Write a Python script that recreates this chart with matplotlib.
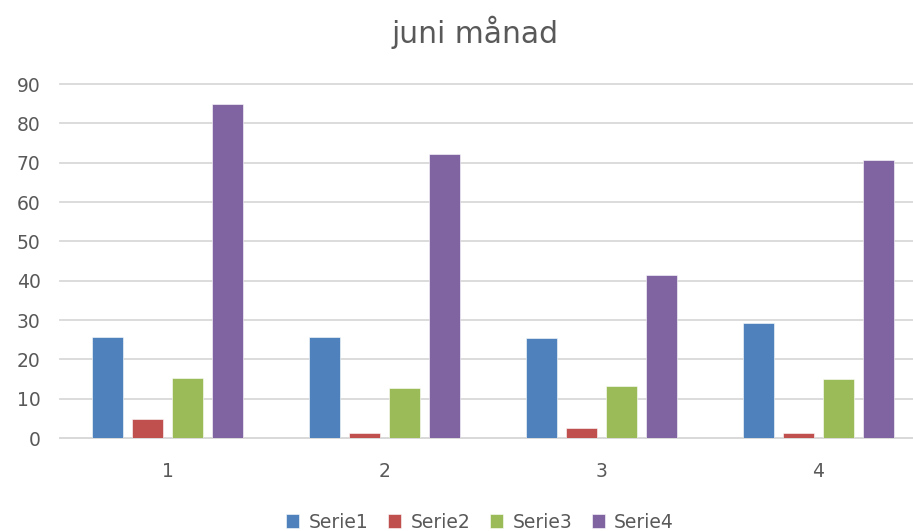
import numpy as np
import matplotlib
matplotlib.use("Agg")
import matplotlib.pyplot as plt

# values
categories = [1, 2, 3, 4]
series_names = ["Serie1", "Serie2", "Serie3", "Serie4"]
serie1 = [25.6, 25.8, 25.5, 29.2]
serie2 = [4.8, 1.2, 2.5, 1.2]
serie3 = [15.2, 12.8, 13.1, 15.1]
serie4 = [84.9, 72.2, 41.5, 70.6]
colours = ["#4F81BD", "#C0504D", "#9BBB59", "#8064A2"]

plt.rcParams['font.family'] = ['DejaVu Sans']

fig = plt.figure(figsize=(9.13, 5.31), dpi=100)
ax = fig.add_axes([60 / 913, 93 / 531, 853 / 913, 354 / 531])

x = np.array(categories, dtype=float)
pitch = 0.1846
width = 0.143
for i, (name, values) in enumerate(zip(series_names, [serie1, serie2, serie3, serie4])):
    offset = (i - 1.5) * pitch
    ax.bar(x + offset, values, width=width, color=colours[i], label=name,
           edgecolor="white", linewidth=0.4, zorder=3)

ax.set_ylim(0, 90)
ax.set_xlim(0.502, 4.438)
ax.set_yticks(range(0, 91, 10))
ax.set_xticks(categories)
ax.yaxis.grid(True, color="#d9d9d9", linewidth=1.3, zorder=0)
for line in ax.get_ygridlines():
    line.set_clip_on(False)
ax.tick_params(length=0, labelsize=13.5, labelcolor="#595959")
ax.tick_params(axis="x", pad=17)
ax.tick_params(axis="y", pad=14)
for side in ["top", "right", "left"]:
    ax.spines[side].set_visible(False)
ax.spines["bottom"].set_color("#d9d9d9")
ax.spines["bottom"].set_linewidth(1.3)

fig.text(475 / 913, 1 - 32 / 531, "juni månad", ha="center", va="center",
         fontsize=21.5, color="#595959")

fig.legend(loc="center", bbox_to_anchor=(480 / 913, 1 - 522 / 531), ncol=4,
           frameon=False, fontsize=13.5, labelcolor="#595959", handlelength=0.7,
           handleheight=0.7, handletextpad=0.5, columnspacing=1.05)

fig.savefig("out.png", dpi=100)
